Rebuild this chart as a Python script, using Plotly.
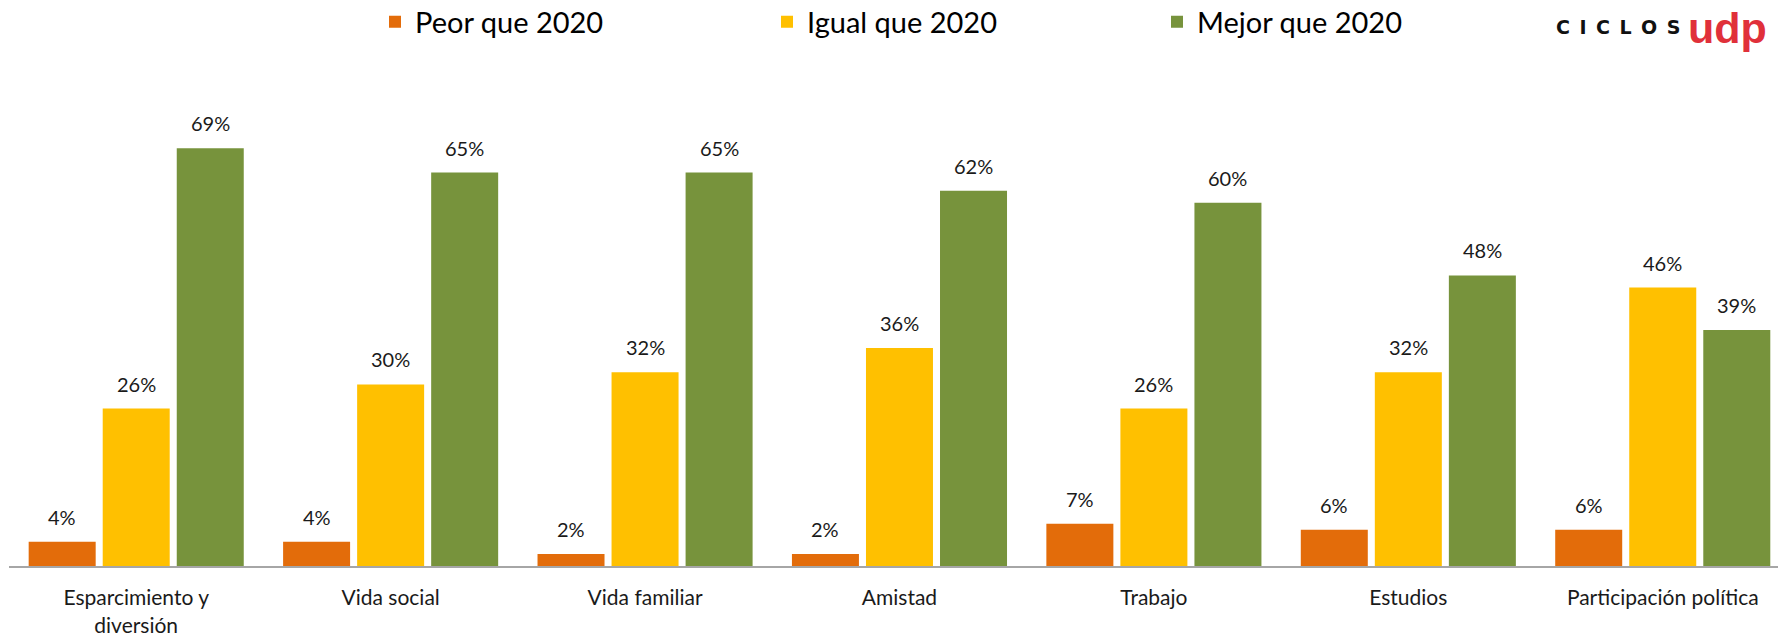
import plotly.graph_objects as go

categories = ["Esparcimiento y<br>diversión", "Vida social", "Vida familiar", "Amistad",
              "Trabajo", "Estudios", "Participación política"]
peor = [4, 4, 2, 2, 7, 6, 6]
igual = [26, 30, 32, 36, 26, 32, 46]
mejor = [69, 65, 65, 62, 60, 48, 39]
series_names = ["Peor que 2020", "Igual que 2020", "Mejor que 2020"]
colors = ["#E36C0A", "#FFC000", "#77933C"]

W, H = 1780, 637
ML, MR, MT, MB = 9, 2, 112, 71
BARGAP = 0.127
XRANGE = [-0.5, 6.453]
FONT = "Lato"

fig = go.Figure()
legends = ["legend", "legend2", "legend3"]
for name, vals, col, lg in zip(series_names, [peor, igual, mejor], colors, legends):
    fig.add_trace(go.Bar(x=categories, y=vals, name=name, marker_color=col,
                         marker_line_width=0, legend=lg, hoverinfo="skip"))

plot_w = W - ML - MR
cat_px = plot_w / (XRANGE[1] - XRANGE[0])
slot = cat_px * (1 - BARGAP) / 3
for j, vals in enumerate([peor, igual, mejor]):
    for c, v in zip(categories, vals):
        fig.add_annotation(x=c, y=v, text=f"{v}%", showarrow=False, yanchor="bottom",
                           xanchor="center", yshift=11, xshift=(j - 1) * slot,
                           font=dict(family=FONT, size=20, color="#1a1a1a"))

plot_h = H - MT - MB
def px_to_paper_x(px):
    return (px - ML) / plot_w
def px_to_paper_y(py):
    return (H - MB - py) / plot_h

legend_left = [375, 767, 1157]
leg_cfg = {}
for lg, lx in zip(legends, legend_left):
    leg_cfg[lg] = dict(x=px_to_paper_x(lx), y=px_to_paper_y(22), xanchor="left", yanchor="middle",
                       orientation="h", bgcolor="rgba(0,0,0,0)",
                       font=dict(family=FONT, size=29, color="#000000"))

fig.add_annotation(x=px_to_paper_x(1618), y=px_to_paper_y(27), xref="paper", yref="paper",
                   text="<b>C\u2002I\u2002C\u2002L\u2002O\u2002S</b>", showarrow=False,
                   xanchor="center", yanchor="middle",
                   font=dict(family="DejaVu Sans", size=19, color="#111111"))
fig.add_annotation(x=px_to_paper_x(1727), y=px_to_paper_y(28), xref="paper", yref="paper",
                   text="<b>udp</b>", showarrow=False, xanchor="center", yanchor="middle",
                   font=dict(family="Liberation Sans", size=43, color="#E0303A"))

fig.update_layout(
    width=W, height=H,
    margin=dict(l=ML, r=MR, t=MT, b=MB, autoexpand=False),
    barmode="group", bargap=BARGAP, bargroupgap=0.095,
    plot_bgcolor="white", paper_bgcolor="white",
    showlegend=True,
    **leg_cfg,
    xaxis=dict(showline=True, linecolor="#A6A6A6", linewidth=2, showgrid=False,
               range=XRANGE, automargin=False,
               ticks="", ticklabelstandoff=12,
               tickfont=dict(family=FONT, size=21, color="#1a1a1a")),
    yaxis=dict(range=[0, 75], visible=False, showgrid=False, zeroline=False, automargin=False),
)

fig.write_html("out.html", config={"displayModeBar": False},
               post_script="document.body.style.margin='0px';document.body.style.overflow='hidden';")
